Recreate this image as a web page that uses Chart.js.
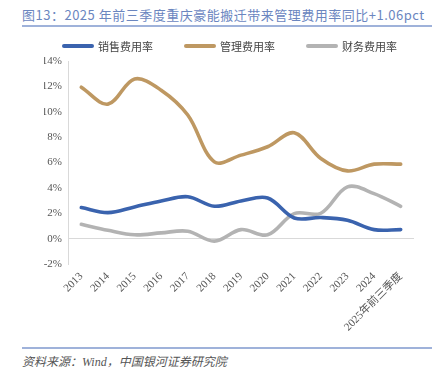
<!DOCTYPE html>
<html><head><meta charset="utf-8">
<script src="https://cdn.jsdelivr.net/npm/chart.js@4/dist/chart.umd.min.js"></script>
<style>
html,body{margin:0;padding:0;background:#fff;width:441px;height:378px;overflow:hidden;position:relative;}
#title{position:absolute;left:22px;top:5px;font-family:"Noto Sans CJK SC","Liberation Serif",serif;font-size:13px;color:#6b86bf;white-space:nowrap;letter-spacing:0.5px;}
#tline{position:absolute;left:22px;top:25px;width:410px;height:2px;background:#9fb2da;}
#sline{position:absolute;left:22px;top:347px;width:410px;height:2px;background:#9fb2da;}
#src{position:absolute;left:22px;top:352px;font-family:"Liberation Serif","Noto Sans CJK SC",serif;font-style:italic;font-size:12px;color:#555;white-space:nowrap;}
#wrap{position:absolute;left:0;top:30px;width:441px;height:312px;}
#legend{position:absolute;left:0;top:38px;width:441px;height:16px;}
.li{position:absolute;top:0;height:16px;font-family:"Noto Sans CJK SC";font-size:11px;color:#444;line-height:16px;white-space:nowrap;}
.li span.sw{position:absolute;left:0;top:6px;width:32px;height:4px;border-radius:2px;}
.li span.tx{position:absolute;left:36px;top:0;}
</style></head>
<body>
<div id="title">图13：2025 年前三季度重庆豪能搬迁带来管理费用率同比+1.06pct</div>
<div id="tline"></div>
<div id="wrap"><canvas id="c" width="441" height="312"></canvas></div>
<div id="legend"></div>
<div id="sline"></div>
<div id="src">资料来源：Wind，中国银河证券研究院</div>
<script>
const categories = ["2013","2014","2015","2016","2017","2018","2019","2020","2021","2022","2023","2024","2025年前三季度"];
const salesRate = [2.45,2.05,2.5,2.97,3.3,2.55,2.97,3.2,1.63,1.66,1.45,0.71,0.71];
const mgmtRate = [11.93,10.6,12.58,11.7,9.74,6.05,6.58,7.24,8.34,6.32,5.34,5.87,5.87];
const finRate = [1.13,0.66,0.3,0.45,0.58,-0.2,0.71,0.3,1.97,2.0,4.08,3.55,2.55];
const seriesNames = ["销售费用率","管理费用率","财务费用率"];
const seriesColors = ['#3a63ae','#be9862','#b3b3b3'];
const yTicks = [-2,0,2,4,6,8,10,12,14];

// HTML legend built from the series names/colours
const legendX = [62, 184, 306];
const lg = document.getElementById('legend');
seriesNames.forEach((n, i) => {
  const d = document.createElement('div');
  d.className = 'li';
  d.style.left = legendX[i] + 'px';
  d.innerHTML = '<span class="sw" style="background:' + seriesColors[i] + '"></span><span class="tx">' + n + '</span>';
  lg.appendChild(d);
});

const ds = (label, data, color) => ({
  label, data, borderColor: color, backgroundColor: color, borderWidth: 3.6,
  pointRadius: 0, tension: 0.35, fill: false, borderCapStyle: 'round'
});

new Chart(document.getElementById('c'), {
  type: 'line',
  data: {
    labels: categories,
    datasets: seriesNames.map((n, i) => ds(n, [salesRate, mgmtRate, finRate][i], seriesColors[i]))
  },
  options: {
    responsive: false,
    animation: false,
    devicePixelRatio: 1,
    layout: { padding: { left: 44, right: 27, top: 31, bottom: 0 } },
    plugins: {
      tooltip: { enabled: false },
      legend: { display: false }
    },
    scales: {
      x: {
        offset: true,
        grid: { display: false, drawTicks: false },
        border: { display: false },
        ticks: {
          maxRotation: 45, minRotation: 45, autoSkip: false, padding: 6,
          font: { family: '"Liberation Serif","Noto Sans CJK SC"', size: 11 }, color: '#555'
        },
        afterFit: s => { s.height = 78; }
      },
      y: {
        min: -2, max: 14,
        afterBuildTicks: s => { s.ticks = yTicks.map(v => ({ value: v })); },
        grid: {
          drawTicks: false,
          color: ctx => ctx.tick && ctx.tick.value === 0 ? '#d9d9d9' : 'rgba(0,0,0,0)',
          lineWidth: 1
        },
        border: { display: true, color: '#d9d9d9', width: 1 },
        ticks: {
          padding: 6,
          callback: v => v + '%',
          font: { family: '"Liberation Serif","Noto Sans CJK SC"', size: 11 }, color: '#555'
        },
        afterFit: s => { s.width = 24; }
      }
    }
  }
});
</script>
</body></html>
